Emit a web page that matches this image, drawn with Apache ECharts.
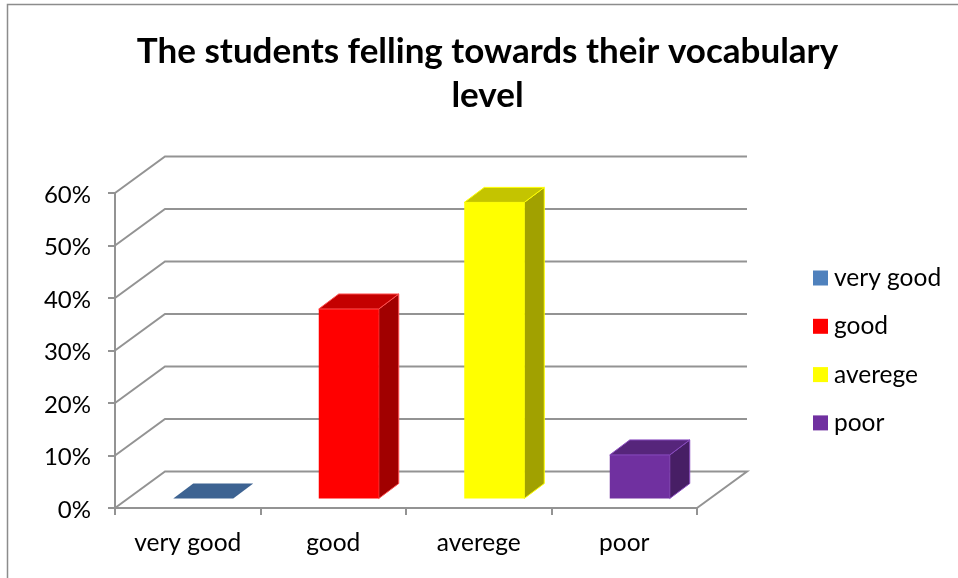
<!DOCTYPE html>
<html><head><meta charset="utf-8">
<style>html,body{margin:0;padding:0;background:#fff}#c{width:958px;height:578px}</style>
<script src="https://cdn.jsdelivr.net/npm/echarts@6/dist/echarts.min.js"></script>
</head><body><div id="c"></div>
<script>
var titleText = "The students felling towards their vocabulary\nlevel";
var categories = ["very good", "good", "averege", "poor"];
var values = [0, 36.1, 56.4, 8.3];
var colors = ["#4F81BD", "#FF0000", "#FFFF00", "#7030A0"];
var edgeColors = ["none", "#FF5050", "#FFFF00", "#8A4CC0"];
var wallTicks = [0, 10, 20, 30, 40, 50, 60];

var FONT = "Lato, 'Open Sans', sans-serif";
var LINE = "#939393";
var WALL_DX = 50, WALL_DY = -36.5;
var BAR_DX = 20, BAR_DY = -15, BAR_W = 60, BAR_SHIFT = 15.5, BAR_LIFT = 9.5;

function shade(hex, k) {
  var n = parseInt(hex.slice(1), 16);
  return "rgb(" + Math.round((n >> 16 & 255) * k) + "," + Math.round((n >> 8 & 255) * k) + "," + Math.round((n & 255) * k) + ")";
}

function renderWall(params, api) {
  var v = api.value(0);
  var band = api.size([1, 0])[0];
  var a = api.coord([0, v]), b = api.coord([categories.length - 1, v]);
  var x0 = a[0] - band / 2, x1 = b[0] + band / 2, y = a[1];
  var pts = [[x0, y], [x0 + WALL_DX, y + WALL_DY], [x1 + WALL_DX, y + WALL_DY]];
  if (v === 0) pts.push([x1, y]);
  return { type: "polyline", shape: { points: pts }, style: { stroke: LINE, lineWidth: 2, fill: "none" }, silent: true };
}

function barRenderer(i) {
  return function (params, api) {
    var c = api.coord([api.value(0), api.value(1)]);
    var base = api.coord([api.value(0), 0]);
    var x0 = c[0] + BAR_SHIFT - BAR_W / 2, x1 = x0 + BAR_W;
    var yb = base[1] - BAR_LIFT, yt = c[1] - BAR_LIFT;
    var edge = { stroke: edgeColors[i], lineWidth: 1, lineJoin: "round" };
    function face(pts, fill) {
      return { type: "polygon", shape: { points: pts }, style: Object.assign({ fill: fill }, edge) };
    }
    var kids = [];
    if (yb - yt > 0.5) {
      kids.push(face([[x1, yb], [x1 + BAR_DX, yb + BAR_DY], [x1 + BAR_DX, yt + BAR_DY], [x1, yt]], shade(colors[i], 0.63)));
      kids.push({ type: "rect", shape: { x: x0, y: yt, width: BAR_W, height: yb - yt }, style: { fill: colors[i] } });
    }
    kids.push(face([[x0, yt], [x1, yt], [x1 + BAR_DX, yt + BAR_DY], [x0 + BAR_DX, yt + BAR_DY]], shade(colors[i], 0.77)));
    return { type: "group", children: kids };
  };
}

var series = [{
  type: "custom", name: "walls", silent: true, z: 1,
  renderItem: renderWall, data: wallTicks.map(function (t) { return [t]; }),
  encode: { y: 0 }, tooltip: { show: false }
}];
categories.forEach(function (name, i) {
  series.push({
    type: "custom", name: name, z: 2, renderItem: barRenderer(i),
    itemStyle: { color: colors[i] },
    data: [[i, values[i]]], encode: { x: 0, y: 1 }
  });
});

var chart = echarts.init(document.getElementById("c"), null, { renderer: "canvas" });
chart.setOption({
  animation: false,
  backgroundColor: "#fff",
  textStyle: { fontFamily: FONT },
  title: {
    text: titleText, left: 482.5, top: 25, textAlign: "center",
    textStyle: { fontFamily: FONT, fontSize: 35, fontWeight: "bold", color: "#000", lineHeight: 44 }
  },
  grid: { left: 115, right: 261, top: 193, height: 315 },
  xAxis: {
    type: "category", data: categories,
    axisLine: { lineStyle: { color: LINE, width: 2 } },
    axisTick: { show: true, alignWithLabel: false, length: 7, lineStyle: { color: LINE, width: 2 } },
    axisLabel: { color: "#000", fontSize: 24.5, fontFamily: FONT, margin: 23 },
    splitLine: { show: false }
  },
  yAxis: {
    type: "value", min: 0, max: 60, interval: 10,
    axisLine: { show: true, lineStyle: { color: LINE, width: 2 } },
    axisTick: { show: true, length: 7, lineStyle: { color: LINE, width: 2 } },
    axisLabel: { color: "#000", fontSize: 24, fontFamily: FONT, margin: 24, verticalAlign: "top", lineHeight: 4, formatter: "{value}%" },
    splitLine: { show: false }
  },
  legend: {
    orient: "vertical", left: 808, top: 259, data: categories, icon: "rect",
    itemWidth: 15, itemHeight: 15, itemGap: 20.3, selectedMode: false,
    textStyle: { color: "#000", fontSize: 24.5, fontFamily: FONT, lineHeight: 28, padding: [0, 0, 0, 1] }
  },
  graphic: [{
    type: "polyline", silent: true, z: 0,
    shape: { points: [[7.5, 578], [7.5, 4.5], [958, 4.5]] },
    style: { stroke: "#8c8c8c", lineWidth: 1.5, fill: "none" }
  }],
  series: series
});
</script></body></html>
